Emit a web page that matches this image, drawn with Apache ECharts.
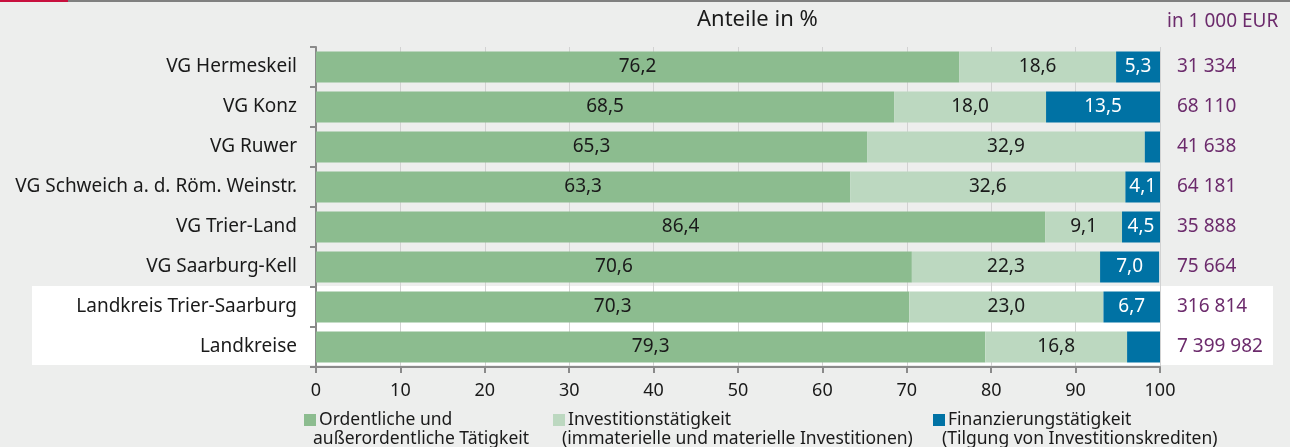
<!DOCTYPE html>
<html>
<head>
<meta charset="utf-8">
<title>Anteile in %</title>
<script src="https://cdn.jsdelivr.net/npm/echarts@6/dist/echarts.min.js"></script>
<style>
  html, body { margin: 0; padding: 0; background: #edeeed; }
  #main { width: 1290px; height: 447px; }
</style>
</head>
<body>
<div id="main"></div>
<script>
// Gebiete, von oben nach unten
var regions = [
  "VG Hermeskeil",
  "VG Konz",
  "VG Ruwer",
  "VG Schweich a. d. Röm. Weinstr.",
  "VG Trier-Land",
  "VG Saarburg-Kell",
  "Landkreis Trier-Saarburg",
  "Landkreise"
];
// Anteile in %
var ordentlich = [76.2, 68.5, 65.3, 63.3, 86.4, 70.6, 70.3, 79.3];
var investition = [18.6, 18.0, 32.9, 32.6, 9.1, 22.3, 23.0, 16.8];
var finanzierung = [5.3, 13.5, 1.8, 4.1, 4.5, 7.0, 6.7, 3.9];
// Summe in 1 000 EUR
var totals = ["31 334", "68 110", "41 638", "64 181", "35 888", "75 664", "316 814", "7 399 982"];
var xTicks = [0, 10, 20, 30, 40, 50, 60, 70, 80, 90, 100];

var seriesNames = [
  "Ordentliche und außerordentliche Tätigkeit",
  "Investitionstätigkeit (immaterielle und materielle Investitionen)",
  "Finanzierungstätigkeit (Tilgung von Investitionskrediten)"
];
var legendLines = [
  ["Ordentliche und", "außerordentliche Tätigkeit"],
  ["Investitionstätigkeit", "(immaterielle und materielle Investitionen)"],
  ["Finanzierungstätigkeit", "(Tilgung von Investitionskrediten)"]
];
var colors = ["#8cbc8f", "#bcd8c0", "#0072a4"];
var legendX = [299, 548, 928];

var FONT = "Noto Sans";

function fmt(v) {
  return v.toFixed(1).replace(".", ",");
}

// kleine Segmente ohne Beschriftung
function items(arr) {
  return arr.map(function (v) {
    return { value: v, label: { show: v >= 4 } };
  });
}

function makeSeries(i, arr, labelColor) {
  return {
    name: seriesNames[i],
    type: "bar",
    stack: "total",
    barWidth: 31,
    data: items(arr),
    itemStyle: { color: colors[i] },
    label: {
      position: "inside",
      color: labelColor,
      fontFamily: FONT,
      fontSize: 19,
      formatter: function (p) { return fmt(p.value); }
    },
    emphasis: { disabled: true }
  };
}

var legends = [];
var graphics = [
  // oberer Rand
  { type: "rect", shape: { x: 0, y: 0, width: 68, height: 2 }, style: { fill: "#c8103e" } },
  { type: "rect", shape: { x: 68, y: 0, width: 1222, height: 2 }, style: { fill: "#808080" } },
  // weisser Hintergrund fuer Landkreis-Zeilen
  { type: "rect", z: -1, shape: { x: 32, y: 286, width: 1241, height: 79 }, style: { fill: "#ffffff" } },
  { type: "text", left: 697, top: 9, style: { text: "Anteile in %", fontFamily: FONT, fontSize: 22, fill: "#1a1a1a" } },
  { type: "text", left: 1167, top: 12, style: { text: "in 1 000 EUR", fontFamily: FONT, fontSize: 19, fill: "#6c2b6c" } }
];

for (var i = 0; i < 3; i++) {
  legends.push({
    data: [seriesNames[i]],
    left: legendX[i],
    top: 406,
    itemWidth: 12,
    itemHeight: 12,
    itemGap: 4,
    icon: "rect",
    selectedMode: false,
    formatter: (function (k) { return function () { return legendLines[k][0]; }; })(i),
    textStyle: { fontFamily: FONT, fontSize: 17.5, color: "#1a1a1a", padding: [0, 0, 0, -2] }
  });
  graphics.push({
    type: "text",
    left: legendX[i] + 14,
    top: 430,
    style: { text: legendLines[i][1], fontFamily: FONT, fontSize: 17.5, fill: "#1a1a1a" }
  });
}

var chart = echarts.init(document.getElementById("main"));
chart.setOption({
  backgroundColor: "#edeeed",
  animation: false,
  textStyle: { fontFamily: FONT },
  grid: { left: 316, right: 130, top: 47, bottom: 80, containLabel: false },
  legend: legends,
  xAxis: {
    type: "value",
    min: xTicks[0],
    max: xTicks[xTicks.length - 1],
    interval: xTicks[1] - xTicks[0],
    axisLine: { show: true, lineStyle: { color: "#8a8a8a", width: 2 } },
    axisTick: { show: true, length: 6, lineStyle: { color: "#8a8a8a", width: 2 } },
    axisLabel: { color: "#1a1a1a", fontSize: 18, margin: 15, fontFamily: FONT },
    splitLine: { show: true, lineStyle: { color: "#d2d2d2", width: 1 } }
  },
  yAxis: [
    {
      type: "category",
      data: regions,
      inverse: true,
      axisLine: { show: true, lineStyle: { color: "#8a8a8a", width: 2 } },
      axisTick: { show: true, length: 6, lineStyle: { color: "#8a8a8a", width: 2 } },
      axisLabel: { color: "#1a1a1a", fontSize: 19, margin: 19, fontFamily: FONT }
    },
    {
      type: "category",
      data: totals,
      inverse: true,
      position: "right",
      axisLine: { show: false },
      axisTick: { show: false },
      axisLabel: { color: "#6c2b6c", fontSize: 19, margin: 17, align: "left", fontFamily: FONT }
    }
  ],
  series: [
    makeSeries(0, ordentlich, "#1a1a1a"),
    makeSeries(1, investition, "#1a1a1a"),
    makeSeries(2, finanzierung, "#ffffff")
  ],
  graphic: graphics
});
</script>
</body>
</html>
